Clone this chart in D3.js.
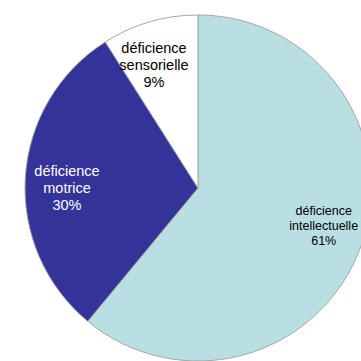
<!DOCTYPE html>
<html>
<head>
<meta charset="utf-8">
<script src="https://cdn.jsdelivr.net/npm/d3@7"></script>
<style>
  body { margin: 0; background: #fff; }
  svg { display: block; }
</style>
</head>
<body>
<svg id="chart" width="361" height="361"></svg>
<script>
const categories = ['déficience intellectuelle', 'déficience motrice', 'déficience sensorielle'];
const values = [61, 30, 9];
const sliceColors = ['#b9dfe3', '#333399', '#ffffff'];
const labelColors = ['#000', '#fff', '#000'];

const width = 361;
const cx = 198, cy = 188, radius = 173;
const labelRadius = 131;
// labels sit a little counter-clockwise of the slice middle
const labelShift = -0.06;

const svg = d3.select('#chart');
const g = svg.append('g').attr('transform', `translate(${cx},${cy})`);

const pie = d3.pie().sort(null).value(d => d.value);
const arcs = pie(categories.map((c, i) => ({ name: c, value: values[i], i })));

const arc = d3.arc().innerRadius(0).outerRadius(radius);

g.selectAll('.slice')
  .data(arcs)
  .enter()
  .append('path')
  .attr('class', 'slice')
  .attr('d', arc)
  .attr('fill', d => sliceColors[d.data.i])
  .attr('stroke', '#a6a6a6')
  .attr('stroke-width', 1);

const labelPos = d => {
  const a = (d.startAngle + d.endAngle) / 2 + labelShift;
  return [labelRadius * Math.sin(a), -labelRadius * Math.cos(a)];
};

const total = d3.sum(values);
const labels = g.selectAll('.label')
  .data(arcs)
  .enter()
  .append('text')
  .attr('class', 'label')
  .attr('transform', d => `translate(${labelPos(d)})`)
  .attr('text-anchor', 'middle')
  .attr('font-family', 'Liberation Sans, Arial, sans-serif')
  .attr('fill', d => labelColors[d.data.i]);

labels.each(function (d) {
  const parts = d.data.name.split(' ');
  parts.push(Math.round(d.data.value / total * 100) + '%');
  const t = d3.select(this);
  const [x] = labelPos(d);
  let size = 14.5;
  const place = () => {
    t.attr('font-size', size + 'px');
    t.selectAll('tspan').attr('y', (p, k) => (k - 1) * size * 1.17 + 5);
  };
  t.selectAll('tspan').data(parts).enter().append('tspan').attr('x', 0).text(p => p);
  place();
  // shrink the label when it would run off the right edge
  while (cx + x + this.getBBox().width / 2 > width - 2 && size > 9) {
    size -= 0.5;
    place();
  }
});
</script>
</body>
</html>
